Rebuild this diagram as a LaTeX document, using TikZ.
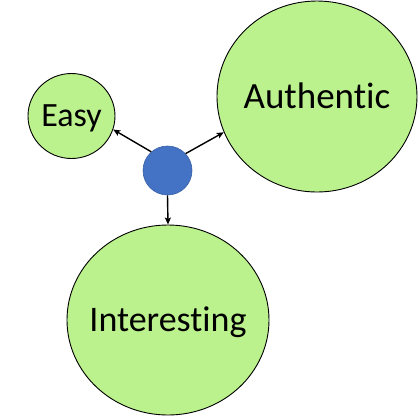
\documentclass[tikz,border=0pt]{standalone}
\usepackage{fontspec}
\setmainfont[Ligatures=CommonOff]{Carlito}
\usetikzlibrary{shapes.geometric,arrows.meta}
\definecolor{leaf}{RGB}{187,242,141}
\definecolor{dotblue}{RGB}{68,114,196}
\definecolor{dotedge}{RGB}{56,95,165}
\tikzset{
  bubble/.style={ellipse,draw=black,line width=0.9pt,fill=leaf,inner sep=0pt,text depth=0pt},
  hub/.style={circle,draw=dotedge,line width=0.6pt,fill=dotblue,inner sep=0pt,minimum size=49pt},
  link/.style={line width=1.4pt,-{Stealth[length=7pt,width=6pt,inset=1.5pt]}}
}
\begin{document}
\begin{tikzpicture}[x=1pt,y=-1pt]
\useasboundingbox (0,0) rectangle (420,416);
\node[bubble,minimum width=87pt,minimum height=85pt,font=\fontsize{34}{40}\selectfont,text height=21.3pt] (easy) at (71.5,116) {\makebox[0pt]{Easy}};
\node[bubble,minimum width=200pt,minimum height=191pt,font=\fontsize{37}{44}\selectfont,text height=23.4pt] (auth) at (317,96.5) {\makebox[0pt]{Authentic}};
\node[bubble,minimum width=202pt,minimum height=190pt,font=\fontsize{36}{43}\selectfont,text height=22.8pt] (inter) at (168,320) {\makebox[0pt]{Interesting}};
\node[hub] (hub) at (167.5,170.5) {};
\draw[link] (hub.131) -- (easy.-18);
\draw[link] (hub.43) -- (auth.201);
\draw[link] (hub.south) -- (inter.north);
\end{tikzpicture}
\end{document}
